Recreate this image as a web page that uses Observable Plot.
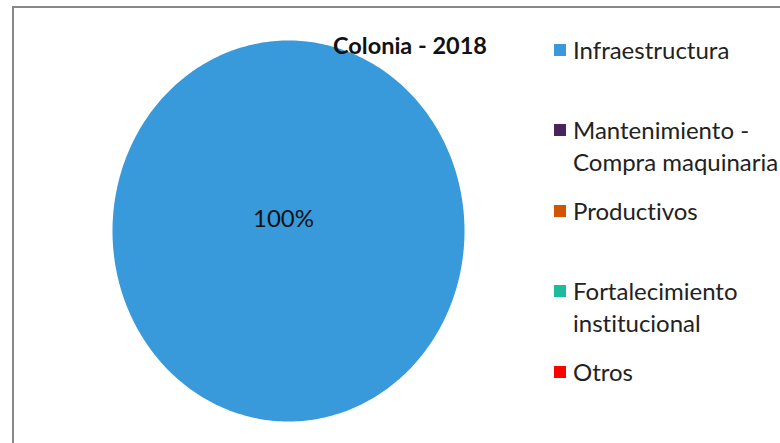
<!DOCTYPE html>
<html>
<head>
<meta charset="utf-8">
<script src="https://cdn.jsdelivr.net/npm/d3@7"></script>
<script src="https://cdn.jsdelivr.net/npm/@observablehq/plot@0.6"></script>
<style>
  html, body { margin: 0; padding: 0; background: #fff; }
  #wrap { position: relative; width: 780px; height: 443px; overflow: hidden; font-family: Lato, "Open Sans", sans-serif; font-variant-ligatures: none; font-feature-settings: "liga" 0, "clig" 0; }
  #frame { position: absolute; left: 12px; top: 6px; width: 800px; height: 460px; border-left: 2px solid #888; border-top: 2px solid #888; box-sizing: border-box; }
  #chart { position: absolute; left: 0; top: 0; }
  #title { position: absolute; left: 290px; width: 240px; top: 31px; line-height: 29px; text-align: center; font-weight: bold; font-size: 23.5px; color: #111; }
  .leg { position: absolute; left: 554px; font-size: 24px; line-height: 32px; color: #222; white-space: pre; }
  .sw { position: absolute; left: 0; top: 10px; width: 12px; height: 12px; }
  .lt { position: absolute; left: 19px; top: 0; }
</style>
</head>
<body>
<div id="wrap">
  <div id="frame"></div>
  <div id="chart"></div>
  <div id="title">Colonia - 2018</div>
</div>
<script>
const categories = ["Infraestructura", "Mantenimiento - Compra maquinaria", "Productivos", "Fortalecimiento institucional", "Otros"];
const legendLabels = ["Infraestructura", "Mantenimiento -\nCompra maquinaria", "Productivos", "Fortalecimiento\ninstitucional", "Otros"];
const values = [100, 0, 0, 0, 0];
const colors = ["#3899db", "#4a235a", "#d35400", "#1abc9c", "#ff0000"];

const total = d3.sum(values);
const arcs = d3.pie().sort(null).value(d => d.value)(categories.map((c, i) => ({category: c, value: values[i]})));

// polygon points for each non-empty slice (unit circle, y up)
const pts = [];
for (const a of arcs) {
  if (a.endAngle - a.startAngle <= 0) continue;
  const n = Math.max(2, Math.ceil((a.endAngle - a.startAngle) / (Math.PI / 180)));
  const full = a.endAngle - a.startAngle >= 2 * Math.PI - 1e-9;
  if (!full) pts.push({category: a.data.category, x: 0, y: 0});
  for (let k = 0; k <= n; k++) {
    const t = a.startAngle + (a.endAngle - a.startAngle) * k / n;
    pts.push({category: a.data.category, x: Math.sin(t), y: Math.cos(t)});
  }
}
const labels = arcs.filter(a => a.value > 0).map(a => {
  const full = a.endAngle - a.startAngle >= 2 * Math.PI - 1e-9;
  const m = (a.startAngle + a.endAngle) / 2, r = full ? 0 : 0.6;
  return {category: a.data.category, x: r * Math.sin(m), y: r * Math.cos(m), text: Math.round(a.value / total * 100) + "%"};
});

const plot = Plot.plot({
  width: 780,
  height: 443,
  margin: 0,
  x: {domain: [-1, 1], range: [112, 464], axis: null},
  y: {domain: [-1, 1], range: [421, 40], axis: null},
  color: {domain: categories, range: colors},
  style: {background: "transparent", fontFamily: "Lato, 'Open Sans', sans-serif"},
  marks: [
    Plot.line(pts, {x: "x", y: "y", z: "category", fill: "category", stroke: "none", curve: "linear-closed"}),
    Plot.text(labels, {x: "x", y: "y", text: "text", fontSize: 24, fill: "#111", dx: -5, dy: -12})
  ]
});
document.getElementById("chart").appendChild(plot);

const wrap = document.getElementById("wrap");
legendLabels.forEach((lab, i) => {
  const d = document.createElement("div");
  d.className = "leg";
  d.style.top = (34 + i * 80.4) + "px";
  d.innerHTML = `<div class="sw" style="background:${colors[i]}"></div><div class="lt"></div>`;
  d.querySelector(".lt").textContent = lab;
  wrap.appendChild(d);
});
</script>
</body>
</html>
